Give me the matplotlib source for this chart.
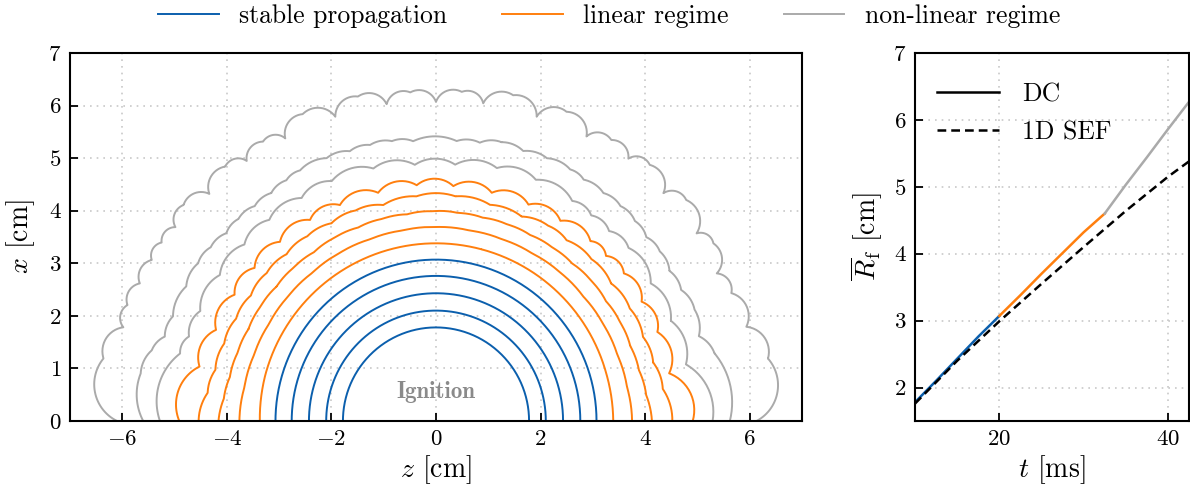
import numpy as np
import matplotlib
matplotlib.use("Agg")
import matplotlib.pyplot as plt
from matplotlib.ticker import FixedLocator, FuncFormatter
from matplotlib.lines import Line2D

# ---------------- data ----------------
# stable fronts: circular, radius in cm
stable_radii = [1.78, 2.10, 2.43, 2.76, 3.07]

# wrinkled fronts: node (cusp) angles in degrees from +z axis, node radii in cm
lin1_ang = [0, 15, 30, 45, 60, 75, 90, 105, 120, 135, 150, 165, 180]
lin1_rad = [3.39, 3.38, 3.38, 3.38, 3.38, 3.38, 3.38, 3.38, 3.38, 3.38, 3.38, 3.38, 3.37]

lin2_ang = [0, 10, 20, 30, 40, 50, 60, 70, 80, 90, 100, 110, 120, 130, 140, 150, 160, 170, 180]
lin2_rad = [3.75, 3.71, 3.69, 3.69, 3.68, 3.69, 3.68, 3.68, 3.68, 3.69, 3.68, 3.68, 3.69, 3.68,
            3.69, 3.69, 3.70, 3.72, 3.76]

lin3_ang = [0, 7, 14, 21, 28, 35, 42, 49, 56, 63, 70, 77, 84, 91, 98, 105, 112, 119, 126, 133,
            140, 147, 154, 161, 168, 174, 180]
lin3_rad = [4.13, 4.05, 4.00, 3.98, 3.99, 3.97, 3.99, 3.97, 3.98, 3.97, 3.98, 3.97, 3.98, 3.99,
            3.97, 3.98, 3.97, 3.99, 3.97, 3.99, 3.98, 4.00, 3.99, 4.01, 4.03, 4.08, 4.16]

lin4_ang = [0, 8, 15, 22, 30, 38, 46, 54, 60, 67.15, 75.9, 85, 95, 103.8, 111, 118, 125, 132,
            139, 146, 153, 160, 167, 173, 180]
lin4_rad = [4.52, 4.38, 4.30, 4.27, 4.28, 4.25, 4.28, 4.25, 4.29, 4.22, 4.24, 4.29, 4.29, 4.23,
            4.29, 4.26, 4.29, 4.27, 4.29, 4.27, 4.29, 4.31, 4.33, 4.40, 4.54]

lin5_ang = [0, 11.5, 21.8, 30, 38, 44, 49.2, 58.0, 66.75, 76.2, 85.75, 94.7, 104.3, 114.1,
            122.2, 131.2, 140.0, 148.05, 157.6, 167.1, 180]
lin5_rad = [4.91, 4.55, 4.56, 4.54, 4.56, 4.52, 4.52, 4.49, 4.48, 4.47, 4.48, 4.50, 4.48, 4.50,
            4.52, 4.53, 4.53, 4.54, 4.55, 4.64, 4.91]

nl1_ang = [0, 12.7, 23.0, 32.5, 41.8, 47.5, 52.8, 58.1, 67.4, 76.4, 85.7, 94.75, 104.0, 113.6,
           121.2, 129.8, 137.5, 146.1, 155.1, 161.2, 165.3, 180]
nl1_rad = [5.29, 4.90, 4.88, 4.87, 4.94, 4.90, 4.91, 4.93, 4.97, 4.95, 4.89, 4.89, 4.95, 4.98,
           4.96, 4.98, 4.97, 4.98, 4.97, 4.99, 5.06, 5.28]

nl2_ang = [0, 13.6, 17.8, 23.2, 28.0, 32.6, 37.0, 41.0, 45.0, 49.2, 53.55, 58.4, 61.8, 67.0,
           72.0, 76.7, 81.0, 85.75, 94.7, 99.0, 103.5, 107.8, 112.7, 118.6, 122.0, 126.0, 130.3,
           134.5, 138.3, 142.5, 146.6, 151.8, 158.4, 162.8, 166.1, 170.9, 180]
nl2_rad = [5.62, 5.48, 5.28, 5.38, 5.31, 5.30, 5.36, 5.33, 5.38, 5.40, 5.39, 5.39, 5.43, 5.43,
           5.40, 5.45, 5.36, 5.34, 5.34, 5.39, 5.40, 5.39, 5.42, 5.43, 5.40, 5.36, 5.36, 5.39,
           5.37, 5.43, 5.45, 5.42, 5.41, 5.43, 5.60, 5.72, 5.60]

nl3_ang = [0, 10.6, 16.8, 23.3, 27.6, 32.5, 35.6, 41.3, 44.9, 50.0, 53.6, 57.9, 62.0, 67.0,
           71.6, 76.6, 81.5, 85.5, 90.0, 94.5, 98.9, 103.6, 108.4, 113.6, 118.2, 121.9, 126.2,
           129.8, 135.1, 139.6, 143.5, 147.1, 150.6, 155.2, 159.5, 163.4, 169.4, 180]
nl3_rad = [6.13, 6.46, 6.20, 6.15, 6.06, 6.29, 6.13, 6.37, 6.14, 6.36, 6.20, 6.31, 6.13, 6.39,
           6.10, 6.37, 6.11, 6.28, 6.07, 6.27, 6.10, 6.35, 6.10, 6.37, 6.10, 6.26, 6.13, 6.30,
           6.12, 6.34, 6.20, 6.25, 6.24, 6.24, 6.30, 6.24, 6.47, 6.10]

# extra cell bulge (sagitta / chord, beyond the circular arc) for each wrinkled front
linear_bulge = [0.0, 0.012, 0.025, 0.06, 0.17]
nonlinear_bulge = [0.13, 0.09, 0.22]

# mean flame radius vs time
t_stable = [10, 12.5, 15, 17.5, 20]
R_stable = [1.78, 2.10, 2.43, 2.76, 3.07]
t_linear = [20, 22.5, 25, 27.5, 30, 32.5]
R_linear = [3.07, 3.38, 3.70, 4.01, 4.32, 4.60]
t_nonlin = [32.5, 35, 37.5, 40, 42.5]
R_nonlin = [4.60, 5.03, 5.44, 5.86, 6.27]
t_sef = [10, 15, 20, 25, 30, 35, 40, 42.5]
R_sef = [1.76, 2.40, 2.99, 3.55, 4.10, 4.64, 5.15, 5.38]

legend_labels = ["stable propagation", "linear regime", "non-linear regime"]
right_legend = ["DC", "1D SEF"]

# ---------------- style ----------------
C_BLUE = "#0b5fad"
C_ORANGE = "#ff7f0e"
C_GRAY = "#aaaaaa"

plt.rcParams["font.family"] = ["cmr10", "DejaVu Serif"]
plt.rcParams["mathtext.fontset"] = "cm"
plt.rcParams["axes.formatter.use_mathtext"] = True
plt.rcParams["font.size"] = 16


def front_xy(ang_deg, rad, k):
    th = np.radians(ang_deg)
    r = np.asarray(rad, float)
    pz = r * np.cos(th)
    px = r * np.sin(th)
    zs, xs = [], []
    for i in range(len(th) - 1):
        p0 = np.array([pz[i], px[i]])
        p1 = np.array([pz[i + 1], px[i + 1]])
        c = np.linalg.norm(p1 - p0)
        a = c / 2
        b = c * (np.tan((th[i + 1] - th[i]) / 4) / 2 + k)
        m = (p0 + p1) / 2
        d = (p1 - p0) / c
        n = np.array([d[1], -d[0]])
        R = (a * a + b * b) / (2 * b)
        ctr = m - (R - b) * n
        a0 = np.arctan2(p0[1] - ctr[1], p0[0] - ctr[0])
        a1 = np.arctan2(p1[1] - ctr[1], p1[0] - ctr[0])
        if a1 < a0:
            a1 += 2 * np.pi
        s = np.linspace(a0, a1, 30)
        zs.extend(ctr[0] + R * np.cos(s))
        xs.extend(ctr[1] + R * np.sin(s))
    return np.array(zs), np.array(xs)


fig = plt.figure(figsize=(11.9, 4.94), dpi=100)
ax1 = fig.add_axes([70 / 1190, 73 / 494, 732 / 1190, 368 / 494])
ax2 = fig.add_axes([915 / 1190, 73 / 494, 274 / 1190, 368 / 494])

mathfmt = FuncFormatter(lambda v, p: r"$%d$" % round(v))

for ax in (ax1, ax2):
    for sp in ax.spines.values():
        sp.set_linewidth(1.5)
    ax.tick_params(direction="in", length=5.5, width=1.3, top=False, right=False,
                   labelsize=16.5, pad=6)
    ax.grid(True, linestyle=(0, (1, 3)), color="#c8c8c8", linewidth=1.2)
    ax.set_axisbelow(True)
    ax.xaxis.set_major_formatter(mathfmt)
    ax.yaxis.set_major_formatter(mathfmt)

# left panel
th = np.linspace(0, np.pi, 300)
for r in stable_radii:
    ax1.plot(r * np.cos(th), r * np.sin(th), color=C_BLUE, lw=1.4)

lin_fronts = [(lin1_ang, lin1_rad), (lin2_ang, lin2_rad), (lin3_ang, lin3_rad),
              (lin4_ang, lin4_rad), (lin5_ang, lin5_rad)]
for (a, r), k in zip(lin_fronts, linear_bulge):
    z, x = front_xy(a, r, k)
    ax1.plot(z, x, color=C_ORANGE, lw=1.4)

nl_fronts = [(nl1_ang, nl1_rad), (nl2_ang, nl2_rad), (nl3_ang, nl3_rad)]
for (a, r), k in zip(nl_fronts, nonlinear_bulge):
    z, x = front_xy(a, r, k)
    ax1.plot(z, x, color=C_GRAY, lw=1.4)

ax1.text(0, 0.55, "Ignition", color="#8a8a8a", fontsize=16.5,
         family=["cmb10", "DejaVu Serif"], ha="center", va="center")
ax1.set_xlim(-7, 7)
ax1.set_ylim(0, 7)
ax1.xaxis.set_major_locator(FixedLocator([-6, -4, -2, 0, 2, 4, 6]))
ax1.yaxis.set_major_locator(FixedLocator([0, 1, 2, 3, 4, 5, 6, 7]))
ax1.set_xlabel(r"$z$ [cm]", fontsize=20, labelpad=3)
ax1.set_ylabel(r"$x$ [cm]", fontsize=20, labelpad=8)

# right panel
ax2.plot(t_stable, R_stable, color=C_BLUE, lw=1.8)
ax2.plot(t_linear, R_linear, color=C_ORANGE, lw=1.8)
ax2.plot(t_nonlin, R_nonlin, color=C_GRAY, lw=1.8)
ax2.plot(t_sef, R_sef, color="black", lw=1.8, linestyle=(0, (3.5, 2)))
ax2.set_xlim(10, 42.5)
ax2.set_ylim(1.5, 7)
ax2.xaxis.set_major_locator(FixedLocator([20, 40]))
ax2.yaxis.set_major_locator(FixedLocator([2, 3, 4, 5, 6, 7]))
ax2.set_xlabel(r"$t$ [ms]", fontsize=20, labelpad=3)
ax2.set_ylabel(r"$\overline{R}_{\rm f}$ [cm]", fontsize=20, labelpad=6)
h2 = [Line2D([], [], color="black", lw=1.8),
      Line2D([], [], color="black", lw=1.8, linestyle=(0, (3.5, 2)))]
ax2.legend(h2, right_legend, loc="upper left", frameon=False, fontsize=18.5,
           handlelength=2.4, handletextpad=0.9, labelspacing=0.55,
           bbox_to_anchor=(-0.028, 1.0), borderaxespad=0.75)

# top legend
h1 = [Line2D([], [], color=c, lw=1.4) for c in (C_BLUE, C_ORANGE, C_GRAY)]
fig.legend(h1, legend_labels, loc="center", bbox_to_anchor=(0.512, 0.968), ncol=3,
           frameon=False, fontsize=18.5, handlelength=2.35, handletextpad=0.8,
           columnspacing=2.15)

fig.savefig("out.png", dpi=100)
